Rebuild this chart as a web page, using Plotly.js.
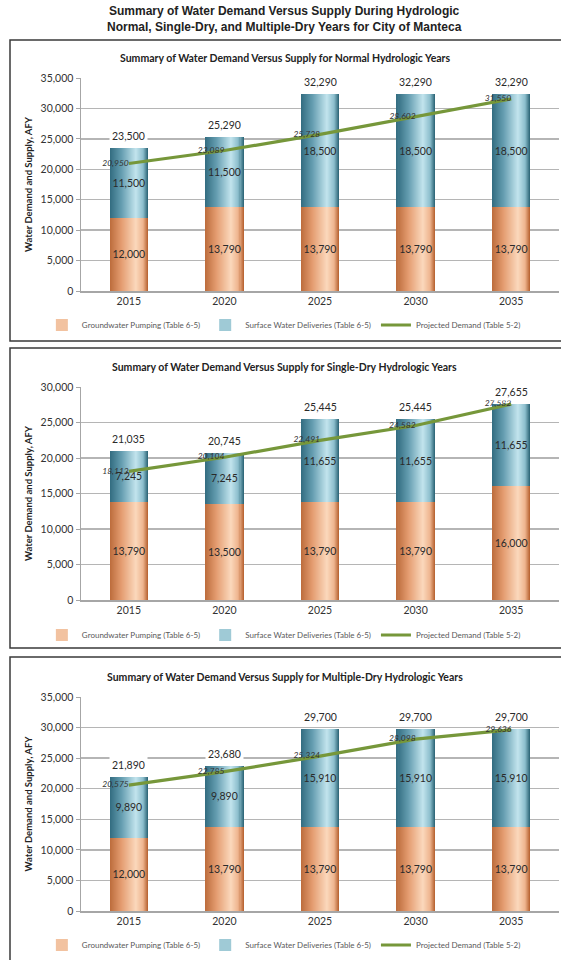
<!DOCTYPE html>
<html>
<head>
<meta charset="utf-8">
<script src="https://cdn.plot.ly/plotly-3.0.1.min.js"></script>
<style>html,body{margin:0;padding:0;background:#fff;}#chart{width:561px;height:960px;}</style>
</head>
<body>
<div id="chart"></div>
<script>
// ---- data ----
const years = ['2015', '2020', '2025', '2030', '2035'];

const normalGround  = [12000, 13790, 13790, 13790, 13790];
const normalSurface = [11500, 11500, 18500, 18500, 18500];
const normalTotal   = [23500, 25290, 32290, 32290, 32290];
const normalDemand  = [20950, 23089, 25728, 28602, 31550];

const singleGround  = [13790, 13500, 13790, 13790, 16000];
const singleSurface = [7245, 7245, 11655, 11655, 11655];
const singleTotal   = [21035, 20745, 25445, 25445, 27655];
const singleDemand  = [18113, 20104, 22491, 24582, 27582];

const multiGround   = [12000, 13790, 13790, 13790, 13790];
const multiSurface  = [9890, 9890, 15910, 15910, 15910];
const multiTotal    = [21890, 23680, 29700, 29700, 29700];
const multiDemand   = [20575, 22785, 25324, 28098, 29636];

const panelTitles = [
  'Summary of Water Demand Versus Supply for Normal Hydrologic Years',
  'Summary of Water Demand Versus Supply for Single-Dry Hydrologic Years',
  'Summary of Water Demand Versus Supply for Multiple-Dry Hydrologic Years'
];
const seriesNames = ['Groundwater Pumping (Table 6-5)', 'Surface Water Deliveries (Table 6-5)', 'Projected Demand (Table 5-2)'];
const mainTitle = 'Summary of Water Demand Versus Supply During Hydrologic<br>Normal, Single-Dry, and Multiple-Dry Years for City of Manteca';

// ---- styling helpers ----
const W = 561, H = 960;
const py = p => 1 - p / H;
const FONT = 'Lato, "Open Sans", sans-serif';
const tealStops = [[0, [50, 108, 128]], [0.3, [100, 157, 176]], [0.68, [194, 228, 237]], [0.87, [140, 190, 205]], [1, [40, 96, 114]]];
const orangeStops = [[0, [188, 108, 60]], [0.3, [228, 156, 112]], [0.68, [251, 216, 188]], [0.87, [238, 180, 142]], [1, [180, 94, 44]]];
function grad(stops, t) {
  for (let i = 0; i < stops.length - 1; i++) {
    const [t0, c0] = stops[i], [t1, c1] = stops[i + 1];
    if (t >= t0 && t <= t1) {
      const f = (t - t0) / (t1 - t0);
      const c = c0.map((v, k) => Math.round(v + (c1[k] - v) * f));
      return `rgb(${c[0]},${c[1]},${c[2]})`;
    }
  }
  return 'rgb(0,0,0)';
}
const fmt = v => v.toLocaleString('en-US');

const panels = [
  {g: normalGround, s: normalSurface, t: normalTotal, d: normalDemand, max: 35000, top: 78, bot: 291, box: [40, 341], title: 58, legend: 325},
  {g: singleGround, s: singleSurface, t: singleTotal, d: singleDemand, max: 30000, top: 387, bot: 600, box: [348, 648], title: 367, legend: 635},
  {g: multiGround, s: multiSurface, t: multiTotal, d: multiDemand, max: 35000, top: 697, bot: 911, box: [657, 975], title: 677, legend: 945}
];

const BARW = 0.4, NS = 38, STEP = BARW / NS;
const traces = [];
const layout = {
  width: W, height: H, autosize: false,
  margin: {l: 0, r: 0, t: 0, b: 0},
  paper_bgcolor: '#fff', plot_bgcolor: 'rgba(0,0,0,0)',
  barmode: 'overlay', bargap: 0, showlegend: true, hovermode: false,
  font: {family: FONT, color: '#333'},
  shapes: [], annotations: []
};

layout.annotations.push({
  text: '<b>' + mainTitle + '</b>', xref: 'paper', yref: 'paper', x: 0.508, y: py(19.5),
  showarrow: false, xanchor: 'center', yanchor: 'middle',
  font: {family: '"Liberation Sans", Arial, sans-serif', size: 12, color: '#222'}
});

panels.forEach((p, i) => {
  const n = i === 0 ? '' : String(i + 1);
  const xa = 'x' + n, ya = 'y' + n, lg = 'legend' + n;
  layout['xaxis' + n] = {
    domain: [81 / W, 559 / W], anchor: ya, type: 'category', range: [-0.5, 4.5],
    showline: true, linecolor: '#a6a6a6', linewidth: 1.5, ticks: '', showgrid: false,
    tickfont: {family: FONT, size: 10.5, color: '#333'}, fixedrange: true
  };
  layout['yaxis' + n] = {
    domain: [py(p.bot), py(p.top)], anchor: xa, range: [0, p.max], dtick: 5000,
    tickformat: ',d', showline: true, linecolor: '#a6a6a6', linewidth: 1.5,
    ticks: 'outside', ticklen: 4, tickcolor: '#a6a6a6', gridcolor: '#b5b5b5', gridwidth: 1.4,
    zeroline: false, tickfont: {family: FONT, size: 10.5, color: '#333'},
    title: {text: '<b>Water Demand and Supply, AFY</b>', font: {family: FONT, size: 9.5, color: '#222'}, standoff: 6},
    fixedrange: true
  };
  layout[lg] = {
    orientation: 'h', x: 0.506, xanchor: 'center', y: py(p.legend), yanchor: 'middle',
    xref: 'paper', yref: 'paper', bgcolor: 'rgba(0,0,0,0)',
    font: {family: FONT, size: 8, color: '#595959'}, itemwidth: 30, traceorder: 'normal'
  };

  const base2 = p.g.slice();
  [[p.g, null, orangeStops, 0], [p.s, base2, tealStops, 1]].forEach(([vals, base, stops, k]) => {
    for (let j = 0; j < NS; j++) {
      const t = (j + 0.5) / NS;
      traces.push({
        type: 'bar', x: years, y: vals, base: base || undefined, xaxis: xa, yaxis: ya,
        offset: -BARW / 2 + j * STEP, width: BARW - j * STEP,
        marker: {color: grad(stops, t), line: {width: 0}},
        name: seriesNames[k], legend: lg, showlegend: j === Math.floor(NS * 0.55),
        hoverinfo: 'skip'
      });
    }
    traces.push({
      type: 'bar', x: years, y: vals, base: base || undefined, xaxis: xa, yaxis: ya,
      width: BARW, marker: {color: 'rgba(0,0,0,0)', line: {width: 0}},
      text: vals.map(fmt), textposition: 'inside', insidetextanchor: 'middle',
      constraintext: 'none', textangle: 0,
      textfont: {family: FONT, size: 10.5, color: '#2a2a2a'},
      showlegend: false, hoverinfo: 'skip'
    });
  });
  traces.push({
    type: 'scatter', mode: 'lines', x: years, y: p.d, xaxis: xa, yaxis: ya,
    line: {color: '#76973a', width: 3.2}, name: seriesNames[2], legend: lg, hoverinfo: 'skip'
  });
  traces.push({
    type: 'scatter', mode: 'text', x: years, y: p.d, xaxis: xa, yaxis: ya,
    text: p.d.map(fmt), textposition: 'middle left',
    textfont: {family: FONT, size: 8.5, color: '#333', style: 'italic'},
    showlegend: false, hoverinfo: 'skip'
  });
  years.forEach((yr, k) => {
    layout.annotations.push({
      text: fmt(p.t[k]), x: k, y: p.t[k], xref: xa, yref: ya, showarrow: false,
      xanchor: 'center', yanchor: 'bottom', yshift: 3, bgcolor: '#fff', borderpad: 2,
      font: {family: FONT, size: 10.5, color: '#2a2a2a'}
    });
  });
  layout.annotations.push({
    text: '<b>' + panelTitles[i] + '</b>', xref: 'paper', yref: 'paper', x: 0.508, y: py(p.title),
    showarrow: false, xanchor: 'center', yanchor: 'middle',
    font: {family: FONT, size: 10.5, color: '#222'}
  });
  layout.shapes.push({
    type: 'rect', xref: 'paper', yref: 'paper', x0: 10 / W, x1: 1.02, y0: py(p.box[1]), y1: py(p.box[0]),
    line: {color: '#3a3a3a', width: 1.5}, fillcolor: 'rgba(0,0,0,0)', layer: 'below'
  });
});

Plotly.newPlot('chart', traces, layout, {staticPlot: true, displayModeBar: false});
</script>
</body>
</html>
